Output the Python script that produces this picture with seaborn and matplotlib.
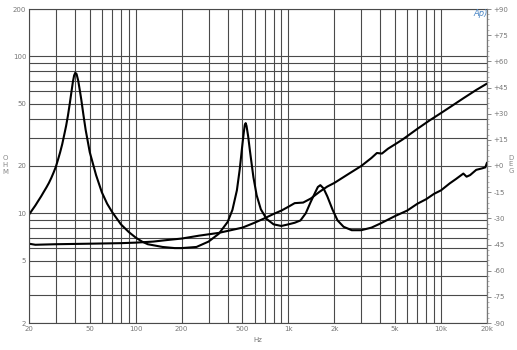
import numpy as np
import pandas as pd
import matplotlib
matplotlib.use("Agg")
import matplotlib.pyplot as plt
import matplotlib.ticker as mticker
import seaborn as sns

# ---- data ----
freq_a = [20, 21, 22, 23, 24, 25, 26, 27, 28, 29, 30, 31, 32, 33, 34, 35, 36, 37, 38, 38.8,
          39.5, 40.2, 41, 42, 43, 44, 45.5, 47, 50, 55, 60, 65, 70, 80, 90, 100, 110, 120, 150,
          180, 200, 250, 300, 350, 400, 430, 460, 480, 500, 510, 518, 525, 532, 545, 560, 590,
          620, 660, 720, 800, 900, 1000, 1100, 1200, 1300, 1400, 1500, 1560, 1620, 1700, 1800,
          1950, 2100, 2300, 2600, 3000, 3500, 4000, 5000, 6000, 7000, 8000, 9000, 10000, 11400,
          12500, 14000, 14700, 15500, 17000, 18500, 19500, 20000]
imp_a = [9.8, 10.5, 11.2, 12.0, 12.8, 13.7, 14.6, 15.6, 16.8, 18.2, 19.8, 22, 24.5, 27.5, 31.5,
         36, 42, 50, 60, 69, 75.5, 78.5, 77, 70, 61, 53, 42, 34, 24.5, 17.5, 13.6, 11.5, 10.2,
         8.5, 7.6, 7.0, 6.6, 6.35, 6.1, 6.0, 6.0, 6.1, 6.6, 7.4, 8.8, 10.5, 14, 19, 27.5, 32.5,
         36.5, 37.5, 36, 31, 25, 17, 13, 10.6, 9.2, 8.5, 8.3, 8.5, 8.7, 9.0, 10, 11.8, 13.6, 14.7,
         15.1, 14.4, 12.8, 10.5, 9.0, 8.2, 7.8, 7.8, 8.1, 8.6, 9.6, 10.4, 11.5, 12.3, 13.3, 14,
         15.5, 16.5, 17.9, 17.1, 17.5, 18.9, 19.3, 19.6, 21]

freq_b = [20, 22, 30, 50, 80, 100, 130, 160, 200, 260, 350, 420, 500, 600, 700, 800, 900, 1000,
          1100, 1250, 1400, 1600, 1800, 2000, 2500, 3000, 3500, 3800, 4100, 4500, 5000, 5600,
          7000, 8400, 10000, 11400, 14000, 17000, 20000]
imp_b = [6.4, 6.3, 6.35, 6.4, 6.45, 6.5, 6.6, 6.75, 6.9, 7.2, 7.5, 7.8, 8.1, 8.7, 9.3, 9.9, 10.4,
         11.0, 11.6, 11.7, 12.4, 13.7, 14.8, 15.6, 17.9, 20, 22.5, 24.2, 24.0, 25.8, 27.5, 29.5,
         34.5, 39, 43.5, 47.3, 54, 61, 67]

x_labels = ["20", "50", "100", "200", "500", "1k", "2k", "5k", "10k", "20k"]
x_label_pos = [20, 50, 100, 200, 500, 1000, 2000, 5000, 10000, 20000]
y_labels = ["2", "5", "10", "20", "50", "100", "200"]
y_label_pos = [2, 5, 10, 20, 50, 100, 200]
deg_pos = list(range(-90, 91, 15))
deg_labels = [("+%d" % d) if d >= 0 else ("%d" % d) for d in deg_pos]

# ---- plot ----
sns.set_style("white")
plt.rcParams['font.family'] = ['DejaVu Sans']

fig = plt.figure(figsize=(5.17, 3.5), dpi=100)
ax = fig.add_axes([29/517, 1-323/350, (487-29)/517, (323-9)/350])

df_a = pd.DataFrame({"f": freq_a, "z": imp_a})
df_b = pd.DataFrame({"f": freq_b, "z": imp_b})
sns.lineplot(data=df_a, x="f", y="z", ax=ax, color="black", lw=1.5, sort=False)
sns.lineplot(data=df_b, x="f", y="z", ax=ax, color="black", lw=1.5, sort=False)

ax.set_xscale("log")
ax.set_yscale("log")
ax.set_xlim(20, 20000)
ax.set_ylim(2, 200)

# grid positions
xgrid = []
for dec in [10, 100, 1000, 10000]:
    for m in range(1, 10):
        v = dec * m
        if 20 <= v <= 20000:
            xgrid.append(v)
ygrid = [2, 3, 4, 5, 6, 7, 8, 9, 10, 20, 30, 40, 50, 60, 70, 80, 90, 100, 200]

ax.xaxis.set_major_locator(mticker.FixedLocator(x_label_pos))
ax.xaxis.set_major_formatter(mticker.FixedFormatter(x_labels))
ax.xaxis.set_minor_locator(mticker.FixedLocator([v for v in xgrid if v not in x_label_pos]))
ax.xaxis.set_minor_formatter(mticker.NullFormatter())
ax.yaxis.set_major_locator(mticker.FixedLocator(y_label_pos))
ax.yaxis.set_major_formatter(mticker.FixedFormatter(y_labels))
ax.yaxis.set_minor_locator(mticker.FixedLocator([v for v in ygrid if v not in y_label_pos]))
ax.yaxis.set_minor_formatter(mticker.NullFormatter())

ax.grid(True, which="both", color="#4a4a4a", lw=0.8)
ax.tick_params(which="both", length=0, labelsize=5, colors="#777777", pad=2)
ax.set_xlabel("Hz", fontsize=5, color="#777777", labelpad=4)
ax.set_ylabel("")
for s in ax.spines.values():
    s.set_color("#4a4a4a")
    s.set_linewidth(0.8)

ax2 = ax.twinx()
ax2.set_ylim(-90, 90)
ax2.set_yticks(deg_pos)
ax2.set_yticklabels(deg_labels)
ax2.yaxis.set_minor_locator(mticker.MultipleLocator(3))
ax2.tick_params(which="major", length=3, width=0.6, labelsize=5, colors="#777777", pad=1.5)
ax2.tick_params(which="minor", length=1.5, width=0.5, colors="#999999")
for s in ax2.spines.values():
    s.set_visible(False)
ax2.spines["right"].set_visible(True)
ax2.spines["right"].set_color("#777777")
ax2.spines["right"].set_linewidth(0.8)

fig.text(5/517, 1-165/350, "O\nH\nM", fontsize=5, color="#888888", ha="center", va="center",
         linespacing=1.1)
fig.text(511/517, 1-164/350, "D\nE\nG", fontsize=5, color="#888888", ha="center", va="center",
         linespacing=1.1)
fig.text(481/517, 1-14/350, "Ap)", fontsize=6, color="#4a86c5", style="italic",
         ha="center", va="center")

fig.savefig("out.png", dpi=100, facecolor="white")
